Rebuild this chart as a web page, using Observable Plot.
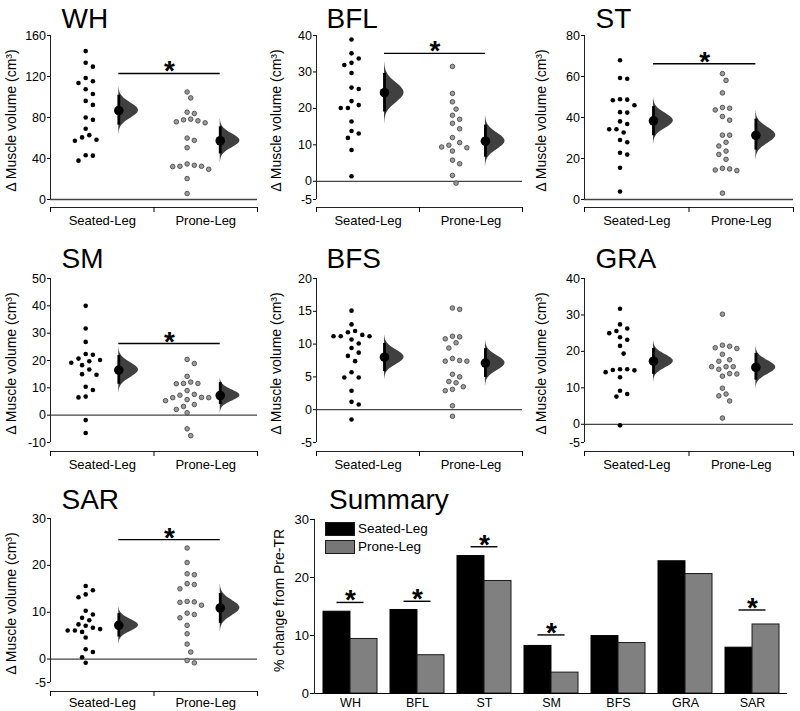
<!DOCTYPE html>
<html>
<head>
<meta charset="utf-8">
<script src="https://cdn.jsdelivr.net/npm/d3@7"></script>
<script src="https://cdn.jsdelivr.net/npm/@observablehq/plot@0.6"></script>
<style>
  body { margin: 0; background: #fff; font-family: "Liberation Sans", Arial, sans-serif; }
  #root { position: relative; width: 800px; height: 711px; overflow: hidden; }
  .cell { position: absolute; }
  .legend { position: absolute; font-size: 13.5px; color: #000; line-height: 14px; }
  .legend .sw { position: absolute; width: 28px; height: 12px; border: 1px solid #1a1a1a; }
  .legend .lab { position: absolute; white-space: nowrap; }
</style>
</head>
<body>
<div id="root"></div>
<script>
// ---------------- data ----------------
const groups = ["Seated-Leg", "Prone-Leg"];
const yLabel = "Δ Muscle volume (cm³)";

const whSeated = [144.8, 133.4, 129.6, 118.5, 115.3, 113.7, 107.5, 103.0, 96.2, 92.3, 80.0, 77.7, 69.0, 62.8, 60.6, 58.3, 57.3, 43.1, 42.8, 37.9];
const whProne  = [104.9, 99.1, 85.2, 83.9, 78.4, 77.7, 76.8, 75.8, 74.8, 59.9, 57.7, 50.5, 34.7, 33.4, 32.4, 32.4, 32.1, 29.5, 20.4, 5.8];
const whMeans = [86.8, 57.3], whLo = [72.5, 44.4], whHi = [101.7, 70.9];
const whTicks = [0, 40, 80, 120, 160], whSig = 123;

const bflSeated = [38.9, 35.1, 33.7, 32.5, 31.9, 29.7, 25.7, 25.3, 22.0, 20.9, 20.1, 20.1, 16.4, 13.8, 13.1, 11.9, 8.6, 1.4];
const bflProne  = [31.5, 24.1, 21.8, 19.8, 18.1, 17.0, 15.9, 14.4, 12.0, 10.6, 9.9, 9.4, 9.2, 8.3, 5.8, 4.8, 1.6, -0.5];
const bflMeans = [24.3, 11.0], bflLo = [19.0, 6.6], bflHi = [29.6, 15.4];
const bflTicks = [-5, 0, 10, 20, 30, 40], bflSig = 35.1;

const stSeated = [67.9, 59.3, 58.9, 48.9, 48.7, 48.4, 46.0, 42.6, 42.4, 38.1, 36.8, 34.3, 34.3, 32.7, 29.0, 27.9, 22.8, 21.9, 15.5, 3.9];
const stProne  = [61.4, 58.1, 52.0, 44.9, 44.5, 43.7, 40.5, 38.7, 31.4, 31.4, 27.9, 26.1, 23.6, 22.0, 19.6, 15.2, 14.9, 14.4, 14.1, 3.1];
const stMeans = [38.4, 31.3], stLo = [31.1, 24.1], stHi = [45.3, 39.2];
const stTicks = [0, 20, 40, 60, 80], stSig = 66.2;

const smSeated = [40.0, 31.7, 26.8, 22.4, 22.1, 20.7, 20.2, 19.7, 19.2, 18.3, 16.7, 15.0, 14.8, 10.4, 9.2, 6.8, 6.5, -1.8, -6.5];
const smProne  = [20.4, 18.9, 14.2, 12.1, 11.6, 11.6, 11.5, 9.0, 7.6, 7.3, 6.5, 6.4, 6.4, 5.7, 5.3, 3.9, 3.2, 2.1, 0.9, -5.0, -7.5];
const smMeans = [16.5, 7.2], smLo = [11.3, 3.9], smHi = [21.8, 11.9];
const smTicks = [-10, 0, 10, 20, 30, 40, 50], smSig = 26.2;

const bfsSeated = [15.1, 13.0, 12.0, 11.8, 11.4, 11.2, 11.2, 11.2, 10.7, 10.1, 9.4, 8.7, 8.2, 7.4, 5.7, 4.9, 4.9, 2.9, 1.2, 0.8, -1.5];
const bfsProne  = [15.5, 15.3, 11.2, 11.1, 10.8, 10.2, 9.4, 7.8, 7.5, 7.4, 7.4, 5.4, 5.0, 4.3, 4.1, 3.5, 3.1, 2.9, 0.6, -1.0];
const bfsMeans = [8.0, 7.1], bfsLo = [5.8, 4.9], bfsHi = [10.1, 9.3];
const bfsTicks = [-5, 0, 5, 10, 15, 20], bfsSig = null;

const graSeated = [31.7, 27.4, 26.3, 25.6, 25.0, 23.9, 23.2, 21.5, 19.4, 15.1, 15.1, 14.9, 14.8, 14.3, 12.9, 9.2, 8.3, 7.6, -0.3];
const graProne  = [30.2, 21.7, 21.4, 21.0, 20.8, 19.2, 17.7, 17.3, 15.8, 15.8, 15.8, 15.1, 13.9, 13.8, 13.2, 9.9, 8.3, 7.8, 6.4, 1.7];
const graMeans = [17.3, 15.6], graLo = [13.7, 12.1], graHi = [20.8, 19.4];
const graTicks = [-5, 0, 10, 20, 30, 40], graSig = null;

const sarSeated = [15.6, 14.7, 13.8, 13.2, 10.3, 9.5, 8.8, 8.3, 7.4, 7.1, 6.7, 6.4, 6.1, 6.1, 5.8, 4.6, 2.1, 1.5, 0.4, -0.8];
const sarProne  = [23.7, 20.6, 18.2, 18.0, 16.1, 15.9, 15.0, 12.3, 12.2, 12.1, 11.5, 9.8, 9.5, 8.8, 7.2, 5.4, 3.2, 1.5, -0.3, -0.8];
const sarMeans = [7.2, 10.9], sarLo = [4.7, 7.6], sarHi = [9.7, 14.0];
const sarTicks = [-5, 0, 10, 20, 30], sarSig = 25.5;

const muscles = ["WH", "BFL", "ST", "SM", "BFS", "GRA", "SAR"];
const seatedPct = [14.1, 14.4, 23.7, 8.2, 9.9, 22.8, 7.9];
const pronePct  = [9.4, 6.6, 19.4, 3.6, 8.7, 20.6, 11.9];
const summarySig = [15.7, 15.9, 25.3, 10.1, null, null, 14.4];
const summaryTicks = [0, 10, 20, 30];

// ---------------- layout ----------------
const FONT = "'Liberation Sans', Arial, sans-serif";
const cols = [
  {left: 0,   w: 265, ml: 50, mr: 8, tx: 62},
  {left: 265, w: 265, ml: 51, mr: 8, tx: 62},
  {left: 530, w: 270, ml: 54, mr: 7, tx: 66}
];
const rows = [
  {top: 0,   h: 235, mt: 35, rb: 199, br: 207, tb: 27, lp: 8},
  {top: 235, h: 240, mt: 43, rb: 207, br: 216, tb: 32, lp: 8},
  {top: 475, h: 236, mt: 43, rb: 207, br: 216, tb: 33, lp: 6.5}
];
const DOT_X = [0.34, 1.32];   // centre of each dot cloud (x units, category = 1 wide)
const MEAN_X = [0.66, 1.64];  // position of estimation plot
const VW = 0.19;              // max half-violin width

const panels = [
  {name: "WH",  seated: whSeated,  prone: whProne,  means: whMeans,  lo: whLo,  hi: whHi,  ticks: whTicks,  sig: whSig,  col: 0, row: 0},
  {name: "BFL", seated: bflSeated, prone: bflProne, means: bflMeans, lo: bflLo, hi: bflHi, ticks: bflTicks, sig: bflSig, col: 1, row: 0},
  {name: "ST",  seated: stSeated,  prone: stProne,  means: stMeans,  lo: stLo,  hi: stHi,  ticks: stTicks,  sig: stSig,  col: 2, row: 0},
  {name: "SM",  seated: smSeated,  prone: smProne,  means: smMeans,  lo: smLo,  hi: smHi,  ticks: smTicks,  sig: smSig,  col: 0, row: 1},
  {name: "BFS", seated: bfsSeated, prone: bfsProne, means: bfsMeans, lo: bfsLo, hi: bfsHi, ticks: bfsTicks, sig: bfsSig, col: 1, row: 1},
  {name: "GRA", seated: graSeated, prone: graProne, means: graMeans, lo: graLo, hi: graHi, ticks: graTicks, sig: graSig, col: 2, row: 1},
  {name: "SAR", seated: sarSeated, prone: sarProne, means: sarMeans, lo: sarLo, hi: sarHi, ticks: sarTicks, sig: sarSig, col: 0, row: 2}
];

// deterministic swarm layout (no randomness): spreads overlapping points sideways
function swarm(values, pxY, pxX, center) {
  const step = 3.6, a = 5, b = 8;
  const order = d3.range(values.length).sort((i, j) => values[j] - values[i]);
  const placed = [];
  const xs = new Array(values.length);
  for (const i of order) {
    const py = values[i] * pxY;
    let off = 0;
    for (let k = 0; k < 60; k++) {
      const cand = k === 0 ? 0 : (k % 2 === 1 ? 1 : -1) * Math.ceil(k / 2) * step;
      const hit = placed.some(p => ((cand - p.x) / a) ** 2 + ((py - p.y) / b) ** 2 < 1);
      if (!hit) { off = cand; break; }
    }
    placed.push({x: off, y: py});
    xs[i] = center + off / pxX;
  }
  return xs;
}

const root = document.getElementById("root");
function place(node, left, top) {
  const d = document.createElement("div");
  d.className = "cell";
  d.style.left = left + "px";
  d.style.top = top + "px";
  d.appendChild(node);
  root.appendChild(d);
}

function panel(p) {
  const c = cols[p.col], r = rows[p.row];
  const yMin = p.ticks[0], yMax = p.ticks[p.ticks.length - 1];
  const pxY = (r.rb - r.mt) / (yMax - yMin);
  const pxX = (c.w - c.ml - c.mr) / 2;
  const dots = [];
  [p.seated, p.prone].forEach((vals, g) => {
    const xs = swarm(vals, pxY, pxX, DOT_X[g]);
    vals.forEach((v, i) => dots.push({g, x: xs[i], v}));
  });
  const stats = [0, 1].map(g => ({g, x: MEAN_X[g], m: p.means[g], lo: p.lo[g], hi: p.hi[g]}));
  const violin = [];
  stats.forEach(s => {
    const sd = (s.hi - s.lo) / 3.92;
    for (let k = 0; k <= 60; k++) {
      const z = -3.1 + 6.2 * k / 60;
      violin.push({g: s.g, y: s.m + z * sd, x1: s.x, x2: s.x + VW * Math.exp(-z * z / 2)});
    }
  });
  const frameMid = (r.mt + r.rb) / 2;
  const labelMid = (r.mt + r.br) / 2;
  const marks = [
    Plot.ruleY([0], {x1: 0, x2: 2, stroke: "#444", strokeWidth: 1.3}),
    Plot.ruleX([0], {y1: yMin, y2: yMax, stroke: "#222", strokeWidth: 1}),
    Plot.axisY({ticks: p.ticks, tickSize: 3, tickPadding: 1.5, fontSize: 12.5, label: null, tickFormat: d => String(d)}),
    Plot.ruleY([yMin], {x1: 0, x2: 2, dy: r.br - r.rb, stroke: "#222", strokeWidth: 1}),
    Plot.axisX({ticks: [0, 1, 2], tickSize: 5, tickFormat: () => "", label: null}),
    Plot.axisX({ticks: [0.5, 1.5], tickSize: 0, tickPadding: r.lp, tickFormat: t => groups[Math.floor(t)], fontSize: 13, label: null}),
    Plot.text([yLabel], {frameAnchor: "left", textAnchor: "middle", rotate: -90, dx: 11.5 - c.ml, dy: frameMid + 3 - labelMid, fontSize: 14}),
    Plot.text([p.name], {frameAnchor: "top-left", dx: c.tx - c.ml - 1, dy: r.tb - r.mt, textAnchor: "start", lineAnchor: "bottom", fontSize: 28}),
    Plot.dot(dots.filter(d => d.g === 0), {x: "x", y: "v", r: 2.3, fill: "black"}),
    Plot.dot(dots.filter(d => d.g === 1), {x: "x", y: "v", r: 2.3, fill: "#9b9b9b", stroke: "#3c3c3c", strokeWidth: 0.8}),
    Plot.areaX(violin, {y: "y", x1: "x1", x2: "x2", z: "g", fill: "#404040"}),
    Plot.ruleX(stats, {x: "x", y1: "lo", y2: "hi", stroke: "black", strokeWidth: 2.8}),
    Plot.dot(stats, {x: "x", y: "m", r: 4.8, fill: "black"})
  ];
  if (p.sig != null) {
    marks.push(
      Plot.ruleY([p.sig], {x1: MEAN_X[0], x2: MEAN_X[1], stroke: "black", strokeWidth: 1.4}),
      Plot.text([p.sig], {x: (MEAN_X[0] + MEAN_X[1]) / 2, y: d => d, text: () => "*", lineAnchor: "bottom", dy: 7, fontSize: 28, fontWeight: "bold"})
    );
  }
  const chart = Plot.plot({
    width: c.w, height: r.h,
    marginLeft: c.ml, marginRight: c.mr, marginTop: r.mt, marginBottom: r.h - r.br,
    style: {fontFamily: FONT, fontSize: "12.5px", color: "black", background: "transparent", overflow: "visible"},
    x: {domain: [0, 2], axis: null},
    y: {domain: [yMin, yMax], insetBottom: r.br - r.rb, axis: null},
    marks
  });
  place(chart, c.left, r.top);
}
panels.forEach(panel);

// ---------------- summary bar chart ----------------
(function summary() {
  const W = 535, H = 236, ml = 49, mr = 13, mt = 44, mb = 18;
  const pi = 0.2, po = 0.1;
  const stepW = (W - ml - mr) / (muscles.length - pi + 2 * po);
  const bw = stepW * (1 - pi);
  const seatedRows = muscles.map((m, i) => ({muscle: m, v: seatedPct[i]}));
  const proneRows = muscles.map((m, i) => ({muscle: m, v: pronePct[i]}));
  const sigRows = muscles.map((m, i) => ({muscle: m, s: summarySig[i]})).filter(d => d.s != null);
  const chart = Plot.plot({
    width: W, height: H, marginLeft: ml, marginRight: mr, marginTop: mt, marginBottom: mb,
    style: {fontFamily: FONT, fontSize: "12.5px", color: "black", background: "transparent", overflow: "visible"},
    x: {domain: muscles, paddingInner: pi, paddingOuter: po, axis: null},
    y: {domain: [0, 30], axis: null},
    marks: [
      Plot.barY(seatedRows, {x: "muscle", y: "v", fill: "black", stroke: "black", strokeWidth: 1, insetRight: bw / 2}),
      Plot.barY(proneRows, {x: "muscle", y: "v", fill: "#808080", stroke: "#1a1a1a", strokeWidth: 1, insetLeft: bw / 2}),
      Plot.ruleY([0], {stroke: "black", strokeWidth: 1.2}),
      Plot.frame({anchor: "left", stroke: "#222"}),
      Plot.axisY({ticks: summaryTicks, tickSize: 4, tickPadding: 1.5, fontSize: 13, label: null}),
      Plot.axisX({tickSize: 0, tickPadding: 5, fontSize: 12.5, label: null}),
      Plot.text(["% change from Pre-TR"], {frameAnchor: "left", textAnchor: "middle", rotate: -90, dx: 14 - ml, dy: -6, fontSize: 14}),
      Plot.text(["Summary"], {frameAnchor: "top-left", dx: 65 - ml - 1.5, dy: 33 - mt, textAnchor: "start", lineAnchor: "bottom", fontSize: 28}),
      Plot.tickY(sigRows, {x: "muscle", y: "s", insetLeft: bw / 4, insetRight: bw / 4, stroke: "black", strokeWidth: 1.4}),
      Plot.text(sigRows, {x: "muscle", y: "s", text: () => "*", lineAnchor: "bottom", dy: 7, fontSize: 28, fontWeight: "bold"})
    ]
  });
  place(chart, 265, 475);

  const lg = document.createElement("div");
  lg.className = "legend";
  lg.style.left = "325px";
  lg.style.top = "522px";
  lg.innerHTML =
    '<div class="sw" style="left:0;top:0;background:#000"></div>' +
    '<div class="lab" style="left:33px;top:0px">' + groups[0] + '</div>' +
    '<div class="sw" style="left:0;top:18px;background:#777"></div>' +
    '<div class="lab" style="left:33px;top:18px">' + groups[1] + '</div>';
  root.appendChild(lg);
})();
</script>
</body>
</html>
